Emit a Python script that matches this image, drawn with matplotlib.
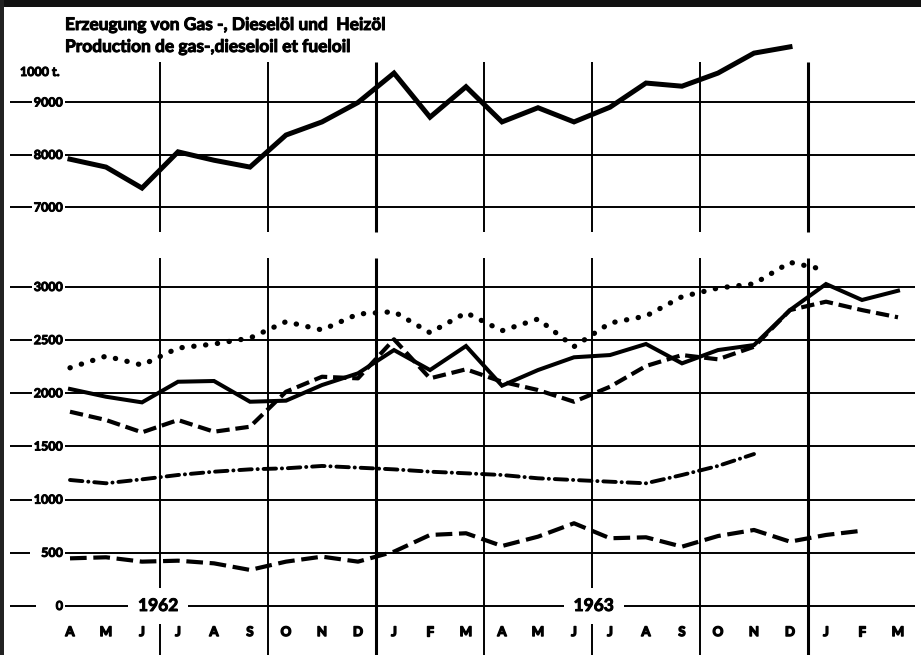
import matplotlib
matplotlib.use("Agg")
import matplotlib.pyplot as plt
import matplotlib.patheffects as pe
from matplotlib.patches import Rectangle

plt.rcParams["font.family"] = ["Lato", "DejaVu Sans"]

# months April 1962 .. March 1964
months = ["A", "M", "J", "J", "A", "S", "O", "N", "D", "J", "F", "M",
          "A", "M", "J", "J", "A", "S", "O", "N", "D", "J", "F", "M"]

# upper panel: total production (1000 t)
total = [7920, 7770, 7370, 8060, 7900, 7770, 8380, 8630, 9000, 9560, 8720, 9300,
         8630, 8900, 8630, 8910, 9370, 9310, 9560, 9940, 10060]

# lower panel series
dotted = [2240, 2350, 2266, 2426, 2464, 2520, 2674, 2596, 2746, 2768, 2570, 2758,
          2589, 2699, 2439, 2661, 2727, 2909, 2990, 3030, 3232, 3160]
solid = [2041, 1968, 1915, 2109, 2116, 1921, 1931, 2078, 2188, 2407, 2219, 2445,
         2072, 2219, 2339, 2360, 2464, 2282, 2407, 2454, 2783, 3028, 2878, 2965]
dashed = [1827, 1749, 1633, 1749, 1639, 1686, 2015, 2156, 2141, 2508, 2141, 2226,
          2109, 2031, 1921, 2062, 2257, 2360, 2320, 2438, 2783, 2862, 2783, 2715]
dashdot = [1185, 1154, 1191, 1232, 1263, 1285, 1295, 1317, 1301, 1285, 1263, 1248,
           1232, 1201, 1185, 1169, 1154, 1232, 1317, 1429]
longdash = [448, 458, 417, 426, 401, 339, 417, 464, 417, 511, 668, 684,
            564, 652, 778, 637, 646, 558, 658, 715, 605, 668, 708]

upper_ticks = [7000, 8000, 9000]
lower_ticks = [0, 500, 1000, 1500, 2000, 2500, 3000]
quarter_lines = [2.5, 5.5, 8.5, 11.5, 14.5, 17.5, 20.5]
year_lines = [8.5, 20.5]
years = {"1962": 2.45, "1963": 14.55}

# thicker strokes for the old print look
bold_fx = [pe.withStroke(linewidth=0.7, foreground="black")]

W, H = 921, 655
fig = plt.figure(figsize=(W / 100, H / 100), dpi=100)
xlim = ((10 - 70) / 36, (915 - 70) / 36)

ax1 = fig.add_axes([10 / W, 1 - 240 / H, 905 / W, 200 / H])
ax2 = fig.add_axes([10 / W, 0, 905 / W, 400 / H])
for ax in (ax1, ax2):
    ax.set_xlim(*xlim)
    ax.axis("off")
ax1.set_ylim(6381, 10190)
ax2.set_ylim(-461, 3301)

label_kw = dict(ha="right", va="center", fontsize=9, fontweight="bold", path_effects=bold_fx,
                bbox=dict(boxstyle="square,pad=0.15", fc="white", ec="none"), zorder=4)

# upper grid
for v in upper_ticks:
    ax1.axhline(v, color="black", lw=1.4, zorder=1)
    ax1.text(-0.2, v, f"{v}", **label_kw)
for x in quarter_lines:
    ax1.vlines(x, 6533, 9771, color="black", lw=2.2 if x in year_lines else 1.4, zorder=1)
ax1.text(-1.39, 9581, "1000 t.", ha="left", va="center", fontsize=9, fontweight="bold",
         path_effects=bold_fx)
ax1.plot(range(len(total)), total, color="black", lw=3.6, solid_joinstyle="miter", zorder=3)

# lower grid
for v in lower_ticks:
    ax2.axhline(v, color="black", lw=1.4, zorder=1)
    txt = f"{v}" if v >= 1000 else ("   " + f"{v}" if v == 500 else "      0")
    ax2.text(-0.2, v, txt, **label_kw)
for x in quarter_lines:
    ax2.vlines(x, -461, 3273, color="black", lw=2.2 if x in year_lines else 1.4, zorder=1)
for name, xpos in years.items():
    ax2.text(xpos, 0, name, ha="center", va="center", fontsize=12.5, fontweight="bold",
             path_effects=bold_fx,
             bbox=dict(boxstyle="square,pad=0.55", fc="white", ec="none"), zorder=4)
for i, m in enumerate(months):
    ax2.text(i, -245, m, ha="center", va="center", fontsize=9.5, fontweight="bold",
             path_effects=[pe.withStroke(linewidth=1.0, foreground="black")],
             bbox=dict(boxstyle="square,pad=0.3", fc="white", ec="none"), zorder=4)

ax2.plot(range(len(dotted)), dotted, color="black", lw=3.8, linestyle=(0, (0.05, 2.2)),
         dash_capstyle="round", zorder=3)
ax2.plot(range(len(solid)), solid, color="black", lw=2.9, solid_joinstyle="miter", zorder=3)
ax2.plot(range(len(dashed)), dashed, color="black", lw=3.0, linestyle=(0, (3.2, 1.4)), zorder=3)
ax2.plot(range(len(dashdot)), dashdot, color="black", lw=2.8,
         linestyle=(0, (3.2, 1.5, 0.05, 1.5)), dash_capstyle="round", zorder=3)
ax2.plot(range(len(longdash)), longdash, color="black", lw=3.0, linestyle=(0, (4.0, 1.6)), zorder=3)

# title
fig.text(65 / W, 1 - 25 / H, "Erzeugung von Gas -, Dieselöl und  Heizöl", ha="left", va="center",
         fontsize=12.5, fontweight="bold", path_effects=bold_fx)
fig.text(65 / W, 1 - 47 / H, "Production de gas-,dieseloil et fueloil", ha="left", va="center",
         fontsize=12.5, fontweight="bold", path_effects=bold_fx)

# scanned frame edges
fig.patches.append(Rectangle((0, 1 - 7 / H), 1, 7 / H, transform=fig.transFigure,
                             fc="#111111", ec="none"))
fig.patches.append(Rectangle((0, 0), 4 / W, 1, transform=fig.transFigure,
                             fc="#222222", ec="none"))

fig.savefig("out.png", dpi=100)
